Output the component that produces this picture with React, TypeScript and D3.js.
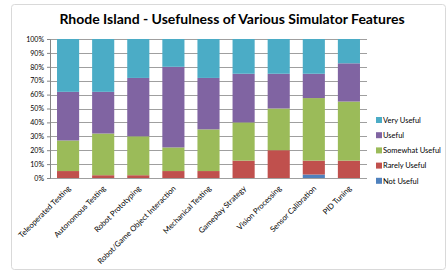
import * as d3 from "d3"
import { useEffect, useRef } from "react"

const W = 448
const H = 272
const margin = { top: 39, right: 81, bottom: 94, left: 50 }
const width = W - margin.left - margin.right
const height = H - margin.top - margin.bottom

const categories = [
  "Teleoperated Testing",
  "Autonomous Testing",
  "Robot Prototyping",
  "Robot/Game Object Interaction",
  "Mechanical Testing",
  "Gameplay Strategy",
  "Vision Processing",
  "Sensor Calibration",
  "PID Tuning",
]
const seriesNames = ["Not Useful", "Rarely Useful", "Somewhat Useful", "Useful", "Very Useful"]
const colors = ["#4F81BD", "#C0504D", "#9BBB59", "#8064A2", "#4BACC6"]

const notUseful = [0, 0, 0, 0, 0, 0, 0, 2.5, 0]
const rarelyUseful = [5, 2, 2, 5, 5, 12.5, 20, 10, 12.5]
const somewhatUseful = [22, 30, 28, 17, 30, 27.5, 30, 45, 42.5]
const useful = [35, 30, 42, 58, 37, 35, 25, 17.5, 27.5]
const veryUseful = [38, 38, 28, 20, 28, 25, 25, 25, 17.5]
const yTicks = [0, 10, 20, 30, 40, 50, 60, 70, 80, 90, 100]

const FONT = "Lato, 'Open Sans', sans-serif"

export default function App() {
  const svgRef = useRef<SVGSVGElement | null>(null)

  useEffect(() => {
    if (!svgRef.current) return
    const svg = d3.select(svgRef.current)
    svg.selectAll("*").remove()

    svg.append("rect").attr("width", W).attr("height", H).attr("fill", "#fff")
    // chart border
    svg
      .append("rect")
      .attr("x", 11.5)
      .attr("y", 4.5)
      .attr("width", 434)
      .attr("height", 265)
      .attr("rx", 3)
      .attr("fill", "#fff")
      .attr("stroke", "#d9d9d9")

    svg
      .append("text")
      .attr("x", 232)
      .attr("y", 24)
      .attr("text-anchor", "middle")
      .style("font-family", FONT)
      .style("font-size", "14px")
      .style("font-weight", "bold")
      .style("fill", "#000")
      .text("Rhode Island - Usefulness of Various Simulator Features")

    const chart = svg.append("g").attr("transform", `translate(${margin.left},${margin.top})`)

    const x = d3.scaleBand().domain(categories).range([0, width]).paddingInner(0.37).paddingOuter(0.2)
    const y = d3.scaleLinear().domain([0, 100]).range([height, 0])

    // grid
    chart
      .append("g")
      .selectAll("line")
      .data(yTicks)
      .enter()
      .append("line")
      .attr("x1", 0)
      .attr("x2", width)
      .attr("y1", (d) => Math.round(y(d)) + 0.5)
      .attr("y2", (d) => Math.round(y(d)) + 0.5)
      .attr("stroke", "#868686")
      .attr("stroke-width", 0.8)

    const yAxis = chart
      .append("g")
      .call(
        d3
          .axisLeft(y)
          .tickValues(yTicks)
          .tickSize(3)
          .tickFormat((d) => `${d}%`),
      )
    yAxis.select(".domain").attr("stroke", "#868686")
    yAxis.selectAll(".tick line").attr("stroke", "#868686")
    yAxis
      .selectAll("text")
      .style("font-family", FONT)
      .style("font-size", "7px")
      .style("fill", "#000")

    const table = categories.map((c, i) => ({
      category: c,
      "Not Useful": notUseful[i],
      "Rarely Useful": rarelyUseful[i],
      "Somewhat Useful": somewhatUseful[i],
      Useful: useful[i],
      "Very Useful": veryUseful[i],
    }))
    const stacked = d3.stack<any>().keys(seriesNames)(table)

    chart
      .selectAll("g.layer")
      .data(stacked)
      .enter()
      .append("g")
      .attr("class", "layer")
      .attr("fill", (_, i) => colors[i])
      .selectAll("rect")
      .data((d) => d)
      .enter()
      .append("rect")
      .attr("x", (d) => x(d.data.category)!)
      .attr("width", x.bandwidth())
      .attr("y", (d) => y(d[1]))
      .attr("height", (d) => y(d[0]) - y(d[1]))

    // category labels
    chart
      .append("g")
      .selectAll("text")
      .data(categories)
      .enter()
      .append("text")
      .attr(
        "transform",
        (d) => `translate(${x(d)! + x.bandwidth() / 2 + 3},${height + 11}) rotate(-45)`,
      )
      .attr("text-anchor", "end")
      .style("font-family", FONT)
      .style("font-size", "7.7px")
      .style("fill", "#000")
      .text((d) => d)

    // legend
    const legend = svg.append("g").attr("transform", "translate(376,120)")
    const legendOrder = [...seriesNames].reverse()
    legendOrder.forEach((name, i) => {
      const g = legend.append("g").attr("transform", `translate(0,${i * 15.2})`)
      g.append("rect")
        .attr("x", 0)
        .attr("y", -3)
        .attr("width", 6)
        .attr("height", 6)
        .attr("fill", colors[seriesNames.indexOf(name)])
      g.append("text")
        .attr("x", 7)
        .attr("y", 2.8)
        .style("font-family", FONT)
        .style("font-size", "7.5px")
        .style("fill", "#000")
        .text(name)
    })
  }, [])

  return (
    <svg
      ref={svgRef}
      width={W}
      height={H}
      style={{ position: "absolute", left: 0, top: 0, display: "block" }}
      xmlns="http://www.w3.org/2000/svg"
    />
  )
}
